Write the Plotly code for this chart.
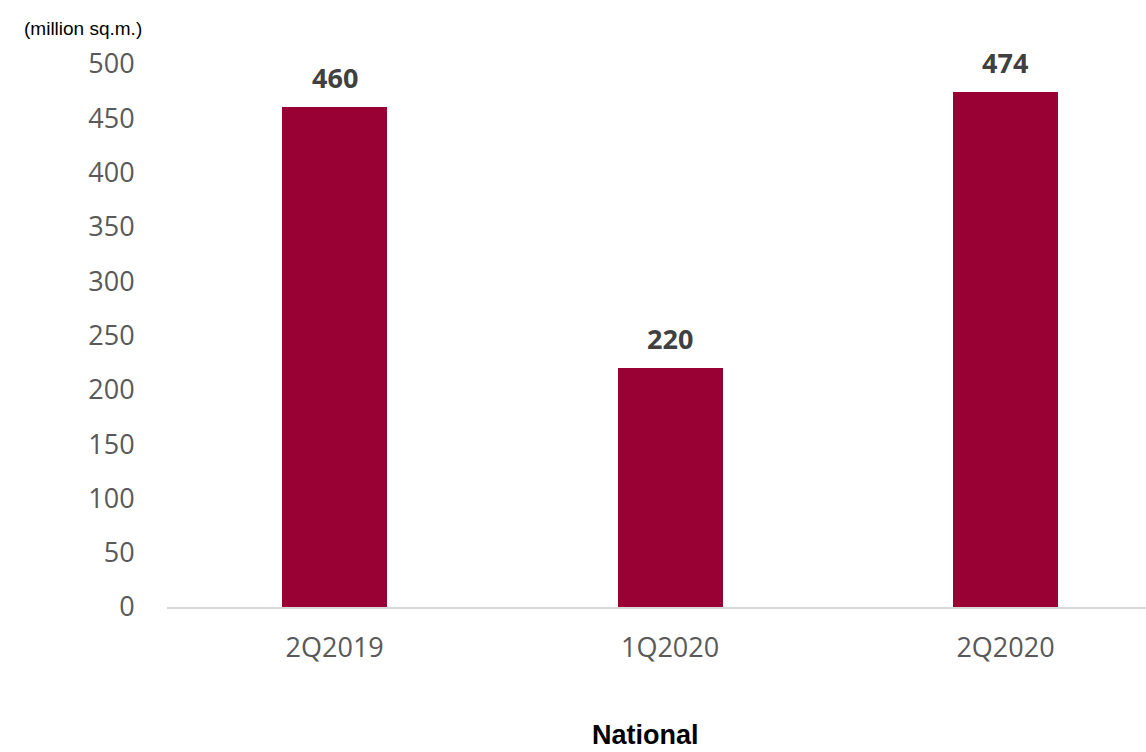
import plotly.graph_objects as go

# Quarterly figures, national total (million sq.m.)
quarters = ["2Q2019", "1Q2020", "2Q2020"]
values = [460, 220, 474]
y_ticks = [0, 50, 100, 150, 200, 250, 300, 350, 400, 450, 500]

bar_color = "#990033"
tick_color = "#595959"
label_color = "#404040"

fig = go.Figure()
fig.add_trace(go.Bar(
    x=quarters,
    y=values,
    width=0.313,
    marker=dict(color=bar_color, line=dict(width=0)),
    hoverinfo="x+y",
))

# Value labels above each bar
for q, v in zip(quarters, values):
    fig.add_annotation(
        x=q, y=v, text=f"<b>{v}</b>", showarrow=False,
        yanchor="middle", yshift=30,
        font=dict(family="Open Sans", size=27, color=label_color),
    )

# Unit note and category caption
fig.add_annotation(
    xref="paper", yref="paper", x=-0.148, y=1.0, yshift=36,
    xanchor="left", yanchor="middle", text="(million sq.m.)", showarrow=False,
    font=dict(family="Liberation Sans, Arial", size=19, color="#000000"),
)
fig.add_annotation(
    xref="paper", yref="paper", x=0.489, y=0, yshift=-128,
    xanchor="center", yanchor="middle", text="<b>National</b>", showarrow=False,
    font=dict(family="Liberation Sans, Arial", size=27, color="#000000"),
)

fig.update_layout(
    width=1146, height=752,
    margin=dict(l=167, r=0, t=64, b=145),
    paper_bgcolor="white", plot_bgcolor="white",
    showlegend=False,
    bargap=0,
    xaxis=dict(
        type="category",
        range=[-0.5, 2.419],
        showline=True, linecolor="#d9d9d9", linewidth=2,
        showgrid=False, zeroline=False,
        ticks="outside", ticklen=16, tickcolor="rgba(0,0,0,0)",
        tickfont=dict(family="Open Sans", size=27, color=tick_color),
    ),
    yaxis=dict(
        range=[0, 500],
        tickvals=y_ticks,
        showline=False, showgrid=False, zeroline=False,
        ticks="outside", ticklen=26, tickcolor="rgba(0,0,0,0)",
        tickfont=dict(family="Open Sans", size=27, color=tick_color),
    ),
)

fig.write_html("out.html")
